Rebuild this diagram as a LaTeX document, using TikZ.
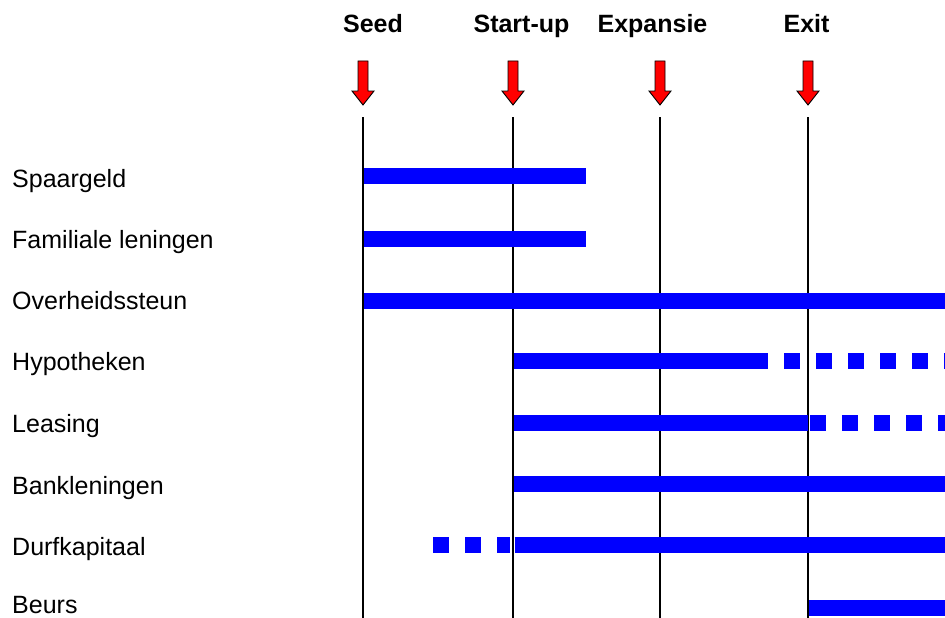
\documentclass[tikz,border=0pt]{standalone}
\usepackage{fontspec}
\setmainfont{Liberation Sans}
\usetikzlibrary{calc}
\definecolor{barblue}{RGB}{0,0,255}
\definecolor{arrowred}{RGB}{255,0,0}
\tikzset{
  stagelabel/.style={font=\fontsize{25}{30}\selectfont\bfseries, anchor=base, inner sep=0pt},
  rowlabel/.style={font=\fontsize{25}{30}\selectfont, anchor=base west, inner sep=0pt},
  stageline/.style={draw=black, line width=1.8pt},
  bar/.style={draw=barblue, line width=16pt, line cap=butt},
  dotbar/.style={bar, dash pattern=on 16pt off 16pt},
  stagearrow/.style={fill=arrowred, draw=black, line width=0.9pt, line join=miter}
}
% block arrow pointing down, its top edge centred on the given coordinate
\newcommand{\stagearrow}[1]{%
  \filldraw[stagearrow] (#1) ++(-5,0) -- ++(10,0) -- ++(0,30) -- ++(6,0)
    -- ++(-11,14) -- ++(-11,-14) -- ++(6,0) -- cycle;}
\begin{document}
\begin{tikzpicture}[x=1pt,y=-1pt]
  \useasboundingbox (0,0) rectangle (945,618);

  % stage positions
  \coordinate (seed)  at (363,0);
  \coordinate (start) at (513,0);
  \coordinate (exp)   at (660,0);
  \coordinate (exit)  at (808,0);
  \coordinate (rend)  at (945,0);

  % stage titles
  \node[stagelabel] (tseed)  at (373,33)   {Seed};
  \node[stagelabel] (tstart) at (521.5,33) {Start-up};
  \node[stagelabel] (texp)   at (652.5,33) {Expansie};
  \node[stagelabel] (texit)  at (806.5,33) {Exit};

  % vertical stage lines with red markers above them
  \foreach \c in {seed,start,exp,exit} {
    \coordinate (a\c) at ($(\c)+(0,61)$);
    \stagearrow{a\c}
    \draw[stageline] ($(\c)+(0,117)$) -- ($(\c)+(0,618)$);
  }

  % row labels
  \node[rowlabel] (l1) at (12,187)   {Spaargeld};
  \node[rowlabel] (l2) at (12,248)   {Familiale leningen};
  \node[rowlabel] (l3) at (12,309)   {Overheidssteun};
  \node[rowlabel] (l4) at (12,370.5) {Hypotheken};
  \node[rowlabel] (l5) at (12,432)   {Leasing};
  \node[rowlabel] (l6) at (12,494)   {Bankleningen};
  \node[rowlabel] (l7) at (12,555.5) {Durfkapitaal};
  \node[rowlabel] (l8) at (12,613.5) {Beurs};

  % row heights of the bars
  \coordinate (r1) at (0,175.5);
  \coordinate (r2) at (0,238.5);
  \coordinate (r3) at (0,300.5);
  \coordinate (r4) at (0,360.5);
  \coordinate (r5) at (0,423);
  \coordinate (r6) at (0,484);
  \coordinate (r7) at (0,545);
  \coordinate (r8) at (0,607.5);

  % financing bars
  \draw[bar] ($(seed |- r1)+(1,0)$) -- (586,175.5);
  \draw[bar] ($(seed |- r2)+(1,0)$) -- (586,238.5);
  \draw[bar] ($(seed |- r3)+(1,0)$) -- (rend |- r3);
  \draw[bar] ($(start |- r4)+(1,0)$) -- (768,360.5);
  \draw[dotbar] (784,360.5) -- (rend |- r4);
  \draw[bar] ($(start |- r5)+(1,0)$) -- (exit |- r5);
  \draw[dotbar] (810,423) -- (rend |- r5);
  \draw[bar] ($(start |- r6)+(1,0)$) -- (rend |- r6);
  \draw[dotbar] (433,545) -- (510,545);
  \draw[bar] ($(start |- r7)+(1.5,0)$) -- (rend |- r7);
  \draw[bar] ($(exit |- r8)+(1,0)$) -- (rend |- r8);
\end{tikzpicture}
\end{document}
